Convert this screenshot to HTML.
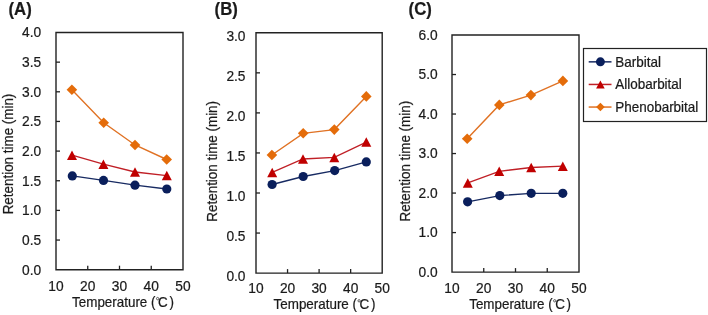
<!DOCTYPE html>
<html><head><meta charset="utf-8"><style>
html,body{margin:0;padding:0;background:#fff;width:708px;height:315px;overflow:hidden}
svg{display:block;will-change:transform}
text{font-family:"Liberation Sans", sans-serif;fill:#1a1a1a;stroke:#1a1a1a;stroke-width:0.22px}
</style></head><body>
<svg width="708" height="315" viewBox="0 0 708 315">
<text transform="translate(8.50,14.70) scale(0.93,1)" font-size="18.0" font-weight="bold">(A)</text>
<path d="M56 269.7V32.5H183V269.7Z" fill="none" stroke="#222" stroke-width="1.4"/>
<text transform="translate(41.10,274.50) scale(0.97,1)" font-size="14.2" text-anchor="end">0.0</text>
<line x1="56" y1="240.05" x2="60" y2="240.05" stroke="#222" stroke-width="1.3"/>
<text transform="translate(41.10,244.85) scale(0.97,1)" font-size="14.2" text-anchor="end">0.5</text>
<line x1="56" y1="210.40" x2="60" y2="210.40" stroke="#222" stroke-width="1.3"/>
<text transform="translate(41.10,215.20) scale(0.97,1)" font-size="14.2" text-anchor="end">1.0</text>
<line x1="56" y1="180.75" x2="60" y2="180.75" stroke="#222" stroke-width="1.3"/>
<text transform="translate(41.10,185.55) scale(0.97,1)" font-size="14.2" text-anchor="end">1.5</text>
<line x1="56" y1="151.10" x2="60" y2="151.10" stroke="#222" stroke-width="1.3"/>
<text transform="translate(41.10,155.90) scale(0.97,1)" font-size="14.2" text-anchor="end">2.0</text>
<line x1="56" y1="121.45" x2="60" y2="121.45" stroke="#222" stroke-width="1.3"/>
<text transform="translate(41.10,126.25) scale(0.97,1)" font-size="14.2" text-anchor="end">2.5</text>
<line x1="56" y1="91.80" x2="60" y2="91.80" stroke="#222" stroke-width="1.3"/>
<text transform="translate(41.10,96.60) scale(0.97,1)" font-size="14.2" text-anchor="end">3.0</text>
<line x1="56" y1="62.15" x2="60" y2="62.15" stroke="#222" stroke-width="1.3"/>
<text transform="translate(41.10,66.95) scale(0.97,1)" font-size="14.2" text-anchor="end">3.5</text>
<text transform="translate(41.10,37.30) scale(0.97,1)" font-size="14.2" text-anchor="end">4.0</text>
<text transform="translate(56.00,290.60) scale(0.97,1)" font-size="14.2" text-anchor="middle">10</text>
<line x1="87.75" y1="269.7" x2="87.75" y2="265.7" stroke="#222" stroke-width="1.3"/>
<text transform="translate(87.75,290.60) scale(0.97,1)" font-size="14.2" text-anchor="middle">20</text>
<line x1="119.50" y1="269.7" x2="119.50" y2="265.7" stroke="#222" stroke-width="1.3"/>
<text transform="translate(119.50,290.60) scale(0.97,1)" font-size="14.2" text-anchor="middle">30</text>
<line x1="151.25" y1="269.7" x2="151.25" y2="265.7" stroke="#222" stroke-width="1.3"/>
<text transform="translate(151.25,290.60) scale(0.97,1)" font-size="14.2" text-anchor="middle">40</text>
<text transform="translate(183.00,290.60) scale(0.97,1)" font-size="14.2" text-anchor="middle">50</text>
<g transform="translate(72.4,306.7) scale(0.945,1)"><text x="-0.35" y="0" font-size="14.2">Temperature (</text><circle cx="90.16" cy="-8.1" r="1.2" fill="none" stroke="#333" stroke-width="0.8"/><text x="90.62" y="0" font-size="14.2">C</text><text x="102.70" y="0" font-size="14.2">)</text></g>
<text transform="translate(13.20,154.00) rotate(-90) scale(0.945,1)" font-size="14.2" text-anchor="middle">Retention time (min)</text>
<path d="M71.9 89.8L103.7 122.8L135 145L166.7 159.5" fill="none" stroke="#e07224" stroke-width="1.4"/>
<path d="M71.9 84.5L77.2 89.8L71.9 95.1L66.60000000000001 89.8Z" fill="#e46c0a"/>
<path d="M103.7 117.5L109.0 122.8L103.7 128.1L98.4 122.8Z" fill="#e46c0a"/>
<path d="M135 139.7L140.3 145L135 150.3L129.7 145Z" fill="#e46c0a"/>
<path d="M166.7 154.2L172.0 159.5L166.7 164.8L161.39999999999998 159.5Z" fill="#e46c0a"/>
<path d="M72 155.2L103.4 164.2L135 172L166.8 175.6" fill="none" stroke="#c01f26" stroke-width="1.3"/>
<path d="M72 150.45L77.0 159.95L67.0 159.95Z" fill="#c00000"/>
<path d="M103.4 159.45L108.4 168.95L98.4 168.95Z" fill="#c00000"/>
<path d="M135 167.25L140.0 176.75L130.0 176.75Z" fill="#c00000"/>
<path d="M166.8 170.85L171.8 180.35L161.8 180.35Z" fill="#c00000"/>
<path d="M72.3 175.9L103.5 180.4L135 185.2L166.8 189" fill="none" stroke="#172a62" stroke-width="1.3"/>
<circle cx="72.3" cy="175.9" r="4.6" fill="#0a1f5c"/>
<circle cx="103.5" cy="180.4" r="4.6" fill="#0a1f5c"/>
<circle cx="135" cy="185.2" r="4.6" fill="#0a1f5c"/>
<circle cx="166.8" cy="189" r="4.6" fill="#0a1f5c"/>
<text transform="translate(214.60,14.70) scale(0.93,1)" font-size="18.0" font-weight="bold">(B)</text>
<path d="M256 273.1V32.8H382.2V273.1Z" fill="none" stroke="#222" stroke-width="1.4"/>
<text transform="translate(245.50,281.00) scale(0.97,1)" font-size="14.2" text-anchor="end">0.0</text>
<line x1="256" y1="233.05" x2="260" y2="233.05" stroke="#222" stroke-width="1.3"/>
<text transform="translate(245.50,240.95) scale(0.97,1)" font-size="14.2" text-anchor="end">0.5</text>
<line x1="256" y1="193.00" x2="260" y2="193.00" stroke="#222" stroke-width="1.3"/>
<text transform="translate(245.50,200.90) scale(0.97,1)" font-size="14.2" text-anchor="end">1.0</text>
<line x1="256" y1="152.95" x2="260" y2="152.95" stroke="#222" stroke-width="1.3"/>
<text transform="translate(245.50,160.85) scale(0.97,1)" font-size="14.2" text-anchor="end">1.5</text>
<line x1="256" y1="112.90" x2="260" y2="112.90" stroke="#222" stroke-width="1.3"/>
<text transform="translate(245.50,120.80) scale(0.97,1)" font-size="14.2" text-anchor="end">2.0</text>
<line x1="256" y1="72.85" x2="260" y2="72.85" stroke="#222" stroke-width="1.3"/>
<text transform="translate(245.50,80.75) scale(0.97,1)" font-size="14.2" text-anchor="end">2.5</text>
<text transform="translate(245.50,40.70) scale(0.97,1)" font-size="14.2" text-anchor="end">3.0</text>
<text transform="translate(256.00,292.60) scale(0.97,1)" font-size="14.2" text-anchor="middle">10</text>
<line x1="287.55" y1="273.1" x2="287.55" y2="269.1" stroke="#222" stroke-width="1.3"/>
<text transform="translate(287.55,292.60) scale(0.97,1)" font-size="14.2" text-anchor="middle">20</text>
<line x1="319.10" y1="273.1" x2="319.10" y2="269.1" stroke="#222" stroke-width="1.3"/>
<text transform="translate(319.10,292.60) scale(0.97,1)" font-size="14.2" text-anchor="middle">30</text>
<line x1="350.65" y1="273.1" x2="350.65" y2="269.1" stroke="#222" stroke-width="1.3"/>
<text transform="translate(350.65,292.60) scale(0.97,1)" font-size="14.2" text-anchor="middle">40</text>
<text transform="translate(382.20,292.60) scale(0.97,1)" font-size="14.2" text-anchor="middle">50</text>
<g transform="translate(273.9,308.9) scale(0.945,1)"><text x="-0.35" y="0" font-size="14.2">Temperature (</text><circle cx="90.16" cy="-8.1" r="1.2" fill="none" stroke="#333" stroke-width="0.8"/><text x="90.62" y="0" font-size="14.2">C</text><text x="102.70" y="0" font-size="14.2">)</text></g>
<text transform="translate(216.60,161.30) rotate(-90) scale(0.945,1)" font-size="14.2" text-anchor="middle">Retention time (min)</text>
<path d="M271.9 155L303.2 133.3L334.3 129.6L366.3 96.4" fill="none" stroke="#e07224" stroke-width="1.4"/>
<path d="M271.9 149.7L277.2 155L271.9 160.3L266.59999999999997 155Z" fill="#e46c0a"/>
<path d="M303.2 128.0L308.5 133.3L303.2 138.60000000000002L297.9 133.3Z" fill="#e46c0a"/>
<path d="M334.3 124.3L339.6 129.6L334.3 134.9L329.0 129.6Z" fill="#e46c0a"/>
<path d="M366.3 91.10000000000001L371.6 96.4L366.3 101.7L361.0 96.4Z" fill="#e46c0a"/>
<path d="M272.2 172.4L303 159L334.3 157.4L366.3 142.1" fill="none" stroke="#c01f26" stroke-width="1.3"/>
<path d="M272.2 167.65L277.2 177.15L267.2 177.15Z" fill="#c00000"/>
<path d="M303 154.25L308.0 163.75L298.0 163.75Z" fill="#c00000"/>
<path d="M334.3 152.65L339.3 162.15L329.3 162.15Z" fill="#c00000"/>
<path d="M366.3 137.35L371.3 146.85L361.3 146.85Z" fill="#c00000"/>
<path d="M272.1 184.5L303.2 176.5L334.7 170.6L366.3 161.9" fill="none" stroke="#172a62" stroke-width="1.3"/>
<circle cx="272.1" cy="184.5" r="4.6" fill="#0a1f5c"/>
<circle cx="303.2" cy="176.5" r="4.6" fill="#0a1f5c"/>
<circle cx="334.7" cy="170.6" r="4.6" fill="#0a1f5c"/>
<circle cx="366.3" cy="161.9" r="4.6" fill="#0a1f5c"/>
<text transform="translate(408.60,14.70) scale(0.93,1)" font-size="18.0" font-weight="bold">(C)</text>
<path d="M452 272.1V35.0H579V272.1Z" fill="none" stroke="#222" stroke-width="1.4"/>
<text transform="translate(437.60,277.00) scale(0.97,1)" font-size="14.2" text-anchor="end">0.0</text>
<line x1="452" y1="232.58" x2="456" y2="232.58" stroke="#222" stroke-width="1.3"/>
<text transform="translate(437.60,237.48) scale(0.97,1)" font-size="14.2" text-anchor="end">1.0</text>
<line x1="452" y1="193.07" x2="456" y2="193.07" stroke="#222" stroke-width="1.3"/>
<text transform="translate(437.60,197.97) scale(0.97,1)" font-size="14.2" text-anchor="end">2.0</text>
<line x1="452" y1="153.55" x2="456" y2="153.55" stroke="#222" stroke-width="1.3"/>
<text transform="translate(437.60,158.45) scale(0.97,1)" font-size="14.2" text-anchor="end">3.0</text>
<line x1="452" y1="114.03" x2="456" y2="114.03" stroke="#222" stroke-width="1.3"/>
<text transform="translate(437.60,118.93) scale(0.97,1)" font-size="14.2" text-anchor="end">4.0</text>
<line x1="452" y1="74.52" x2="456" y2="74.52" stroke="#222" stroke-width="1.3"/>
<text transform="translate(437.60,79.42) scale(0.97,1)" font-size="14.2" text-anchor="end">5.0</text>
<text transform="translate(437.60,39.90) scale(0.97,1)" font-size="14.2" text-anchor="end">6.0</text>
<text transform="translate(452.00,292.60) scale(0.97,1)" font-size="14.2" text-anchor="middle">10</text>
<line x1="483.75" y1="272.1" x2="483.75" y2="268.1" stroke="#222" stroke-width="1.3"/>
<text transform="translate(483.75,292.60) scale(0.97,1)" font-size="14.2" text-anchor="middle">20</text>
<line x1="515.50" y1="272.1" x2="515.50" y2="268.1" stroke="#222" stroke-width="1.3"/>
<text transform="translate(515.50,292.60) scale(0.97,1)" font-size="14.2" text-anchor="middle">30</text>
<line x1="547.25" y1="272.1" x2="547.25" y2="268.1" stroke="#222" stroke-width="1.3"/>
<text transform="translate(547.25,292.60) scale(0.97,1)" font-size="14.2" text-anchor="middle">40</text>
<text transform="translate(579.00,292.60) scale(0.97,1)" font-size="14.2" text-anchor="middle">50</text>
<g transform="translate(469.5,308.9) scale(0.945,1)"><text x="-0.35" y="0" font-size="14.2">Temperature (</text><circle cx="90.16" cy="-8.1" r="1.2" fill="none" stroke="#333" stroke-width="0.8"/><text x="90.62" y="0" font-size="14.2">C</text><text x="102.70" y="0" font-size="14.2">)</text></g>
<text transform="translate(409.90,161.20) rotate(-90) scale(0.945,1)" font-size="14.2" text-anchor="middle">Retention time (min)</text>
<path d="M467.2 138.7L499.3 104.9L530.9 95.1L562.9 80.9" fill="none" stroke="#e07224" stroke-width="1.4"/>
<path d="M467.2 133.39999999999998L472.5 138.7L467.2 144.0L461.9 138.7Z" fill="#e46c0a"/>
<path d="M499.3 99.60000000000001L504.6 104.9L499.3 110.2L494.0 104.9Z" fill="#e46c0a"/>
<path d="M530.9 89.8L536.1999999999999 95.1L530.9 100.39999999999999L525.6 95.1Z" fill="#e46c0a"/>
<path d="M562.9 75.60000000000001L568.1999999999999 80.9L562.9 86.2L557.6 80.9Z" fill="#e46c0a"/>
<path d="M467.8 182.9L499.2 171.3L531.2 167.5L562.8 166.2" fill="none" stroke="#c01f26" stroke-width="1.3"/>
<path d="M467.8 178.15L472.8 187.65L462.8 187.65Z" fill="#c00000"/>
<path d="M499.2 166.55L504.2 176.05L494.2 176.05Z" fill="#c00000"/>
<path d="M531.2 162.75L536.2 172.25L526.2 172.25Z" fill="#c00000"/>
<path d="M562.8 161.45L567.8 170.95L557.8 170.95Z" fill="#c00000"/>
<path d="M467.6 201.8L499.8 195.6L531.2 193.3L562.8 193.3" fill="none" stroke="#172a62" stroke-width="1.3"/>
<circle cx="467.6" cy="201.8" r="4.6" fill="#0a1f5c"/>
<circle cx="499.8" cy="195.6" r="4.6" fill="#0a1f5c"/>
<circle cx="531.2" cy="193.3" r="4.6" fill="#0a1f5c"/>
<circle cx="562.8" cy="193.3" r="4.6" fill="#0a1f5c"/>
<rect x="583.5" y="48.5" width="123" height="73" fill="#fff" stroke="#222" stroke-width="1.2"/>
<line x1="588.7" y1="61.85" x2="611.5" y2="61.85" stroke="#172a62" stroke-width="1.5"/>
<circle cx="600.4" cy="61.85" r="4.5" fill="#0a1f5c"/>
<text transform="translate(615.20,66.50) scale(0.95,1)" font-size="14.2">Barbital</text>
<line x1="588.7" y1="84.45" x2="611.5" y2="84.45" stroke="#c01f26" stroke-width="1.5"/>
<path d="M600.4 80.45L604.6999999999999 88.45L596.1 88.45Z" fill="#c00000"/>
<text transform="translate(615.20,89.00) scale(0.95,1)" font-size="14.2">Allobarbital</text>
<line x1="588.7" y1="107.05" x2="611.5" y2="107.05" stroke="#e07224" stroke-width="1.5"/>
<path d="M600.4 102.75000000000001L604.6999999999999 107.05000000000001L600.4 111.35000000000001L596.1 107.05000000000001Z" fill="#e46c0a"/>
<text transform="translate(615.20,111.50) scale(0.95,1)" font-size="14.2">Phenobarbital</text>
</svg>
</body></html>
